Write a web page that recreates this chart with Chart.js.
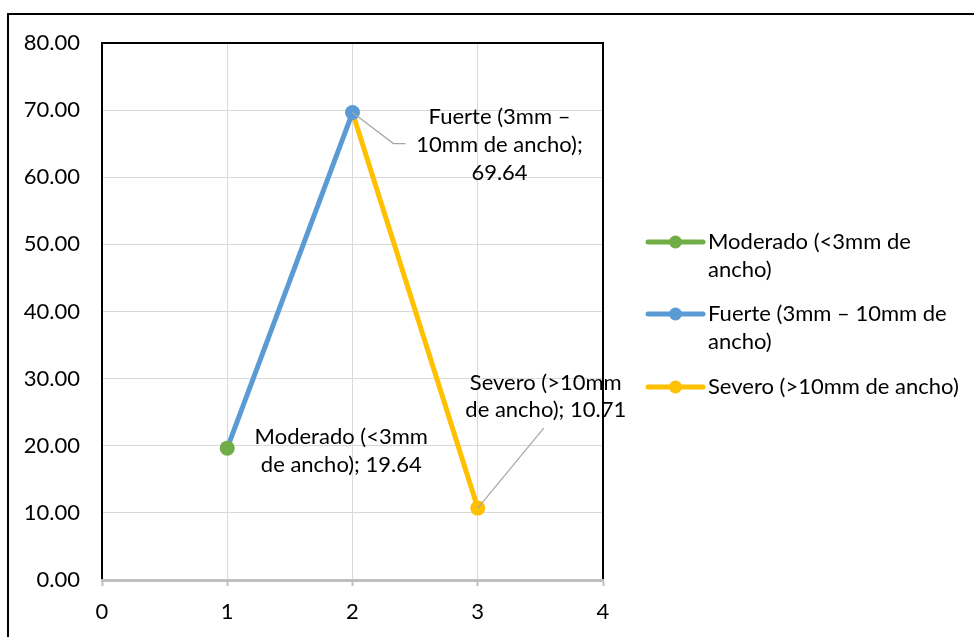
<!DOCTYPE html>
<html>
<head>
<meta charset="utf-8">
<script src="https://cdn.jsdelivr.net/npm/chart.js@4.4.1/dist/chart.umd.min.js"></script>
<style>
html,body{margin:0;padding:0;background:#fff;}
canvas{display:block;}
</style>
</head>
<body>
<canvas id="c" width="974" height="637"></canvas>
<script>
// ---- data ----
const categories = ["Moderado (<3mm de ancho)", "Fuerte (3mm \u2013 10mm de ancho)", "Severo (>10mm de ancho)"];
const xValues = [1, 2, 3];
const yValues = [19.64, 69.64, 10.71];
const seriesColors = ["#70ad47", "#5b9bd5", "#ffc000"];
const legendLines = [["Moderado (<3mm de", "ancho)"], ["Fuerte (3mm \u2013 10mm de", "ancho)"], ["Severo (>10mm de ancho)"]];
const labelLines = [["Moderado (<3mm", "de ancho); 19.64"], ["Fuerte (3mm \u2013", "10mm de ancho);", "69.64"], ["Severo (>10mm", "de ancho); 10.71"]];
const yTicks = [0, 10, 20, 30, 40, 50, 60, 70, 80];
const xTicks = [0, 1, 2, 3, 4];

const FONT = "Lato, 'Open Sans', sans-serif";
const FS = 22;

const decor = {
  id: 'decor',
  afterDraw(chart) {
    const ctx = chart.ctx;
    const a = chart.chartArea;
    const xs = chart.scales.x, ys = chart.scales.y;
    ctx.save();
    // outer chart border (top & left)
    ctx.strokeStyle = '#000'; ctx.lineWidth = 2;
    ctx.beginPath(); ctx.moveTo(8, 637); ctx.lineTo(8, 14); ctx.lineTo(974, 14); ctx.stroke();
    // plot-area border (left, top, right)
    ctx.beginPath();
    ctx.moveTo(a.left, a.bottom - 1); ctx.lineTo(a.left, a.top); ctx.lineTo(a.right, a.top); ctx.lineTo(a.right, a.bottom - 1);
    ctx.stroke();

    // data labels
    const offs = [
      {dx: 114, dy: [-11, 17]},
      {dx: 147, dy: [4, 32, 60]},
      {dx: 68, dy: [-125, -98]}
    ];
    ctx.font = FS + 'px ' + FONT;
    ctx.fillStyle = '#000';
    ctx.textAlign = 'center'; ctx.textBaseline = 'middle';
    for (let i = 0; i < yValues.length; i++) {
      const px = xs.getPixelForValue(xValues[i]);
      const py = ys.getPixelForValue(yValues[i]);
      labelLines[i].forEach((t, k) => ctx.fillText(t, px + offs[i].dx, py + offs[i].dy[k]));
      ctx.strokeStyle = '#a6a6a6'; ctx.lineWidth = 1.2;
      if (i === 1) {
        ctx.beginPath(); ctx.moveTo(px, py); ctx.lineTo(px + 41, py + 31); ctx.lineTo(px + 53, py + 31); ctx.stroke();
      }
      if (i === 2) {
        ctx.beginPath(); ctx.moveTo(px, py); ctx.lineTo(px + 66, py - 80); ctx.stroke();
      }
    }

    // legend
    const lx0 = a.right + 45, lx1 = a.right + 100, tx = a.right + 105;
    const rowY = [[242, 270], [314, 342], [387]];
    ctx.textAlign = 'left';
    for (let i = 0; i < legendLines.length; i++) {
      const y0 = rowY[i][0];
      ctx.strokeStyle = seriesColors[i]; ctx.lineWidth = 5; ctx.lineCap = 'round';
      ctx.beginPath(); ctx.moveTo(lx0, y0); ctx.lineTo(lx1, y0); ctx.stroke();
      ctx.fillStyle = seriesColors[i];
      ctx.beginPath(); ctx.arc((lx0 + lx1) / 2, y0, 6.5, 0, Math.PI * 2); ctx.fill();
      ctx.fillStyle = '#000';
      legendLines[i].forEach((t, k) => ctx.fillText(t, tx, rowY[i][k]));
    }
    ctx.restore();
  }
};

new Chart(document.getElementById('c'), {
  type: 'line',
  data: {
    datasets: [{
      label: 'Serie',
      data: xValues.map((x, i) => ({x: x, y: yValues[i]})),
      borderWidth: 5,
      segment: { borderColor: c => seriesColors[c.p1DataIndex] },
      borderColor: seriesColors[1],
      pointBackgroundColor: seriesColors,
      pointBorderColor: seriesColors,
      pointRadius: 7.5,
      pointBorderWidth: 0,
      tension: 0
    }]
  },
  options: {
    responsive: false,
    animation: false,
    layout: { padding: { left: 0, top: 43, right: 371, bottom: 0 } },
    plugins: { legend: { display: false }, tooltip: { enabled: false } },
    scales: {
      x: {
        type: 'linear', min: 0, max: 4,
        afterBuildTicks: s => { s.ticks = xTicks.map(v => ({value: v})); },
        afterFit: s => { s.height = 57; },
        ticks: { color: '#000', font: { family: FONT, size: FS }, padding: 13 },
        grid: { color: '#d9d9d9', lineWidth: 1, tickColor: '#bfbfbf', tickLength: 6, tickWidth: 2 },
        border: { color: '#bfbfbf', width: 3 }
      },
      y: {
        type: 'linear', min: 0, max: 80,
        afterBuildTicks: s => { s.ticks = yTicks.map(v => ({value: v})); },
        afterFit: s => { s.width = 102; },
        ticks: { color: '#000', font: { family: FONT, size: FS }, padding: 22, callback: v => Number(v).toFixed(2) },
        grid: { color: '#d9d9d9', lineWidth: 1, drawTicks: false },
        border: { display: false }
      }
    }
  },
  plugins: [decor]
});
</script>
</body>
</html>
